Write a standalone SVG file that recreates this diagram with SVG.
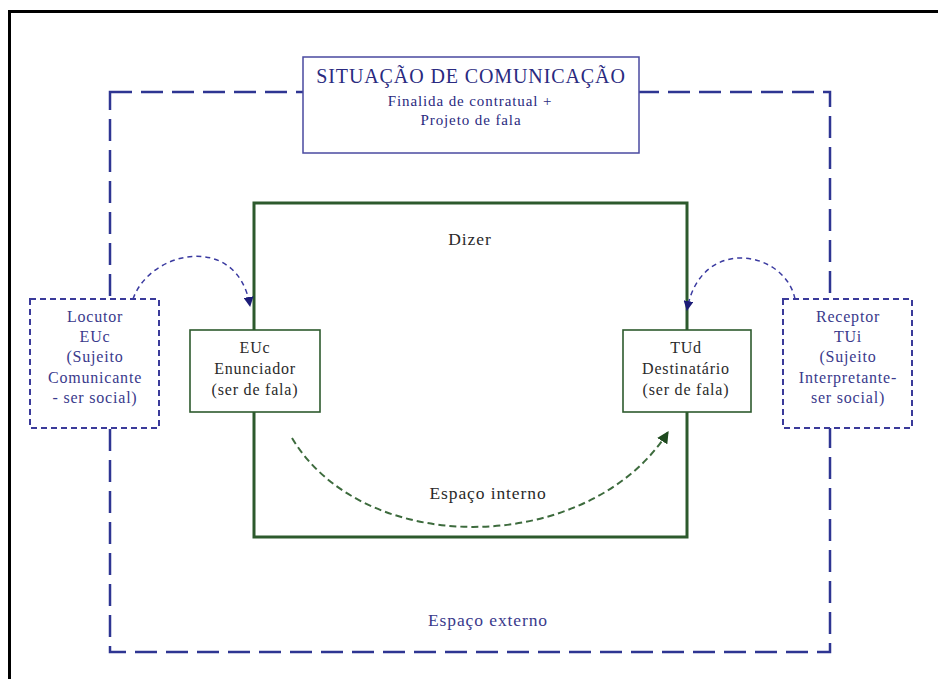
<svg xmlns="http://www.w3.org/2000/svg" width="938" height="679" viewBox="0 0 938 679" font-family="'Liberation Serif', 'Times New Roman', serif">
  <defs>
    <marker id="headBlue" viewBox="0 0 10 10" refX="9" refY="5" markerWidth="10" markerHeight="10" markerUnits="userSpaceOnUse" orient="auto">
      <path d="M0,0 L10,5 L0,10 z" fill="#1c1c78"/>
    </marker>
    <marker id="headGreen" viewBox="0 0 10 10" refX="9" refY="5" markerWidth="12" markerHeight="12" markerUnits="userSpaceOnUse" orient="auto">
      <path d="M0,0 L10,5 L0,10 z" fill="#1f4a1f"/>
    </marker>
  </defs>
  <style>
    text { font-family: 'Liberation Serif', 'Times New Roman', serif; text-anchor: middle; }
    .title { font-size: 20px; fill: #2a2a80; letter-spacing: 0.9px; }
    .sub { font-size: 15px; fill: #2a2a80; letter-spacing: 0.9px; }
    .ext { font-size: 16px; fill: #3a3a8c; letter-spacing: 0.8px; }
    .int { font-size: 16px; fill: #2a2a2a; letter-spacing: 0.8px; }
    .space { font-size: 17.5px; letter-spacing: 0.9px; }
    .outerFrame { fill: none; stroke: #000; stroke-width: 3; }
    .extSpace { fill: none; stroke: #2e3592; stroke-width: 2.5; stroke-dasharray: 22 9; }
    .intSpace { fill: none; stroke: #2d5a2d; stroke-width: 3; }
    .extBox { fill: #fff; stroke: #3a3a9a; stroke-width: 2; stroke-dasharray: 6 4; }
    .intBox { fill: #fff; stroke: #2d5a2d; stroke-width: 1.6; }
    .sitBox { fill: #fff; stroke: #4a4aa0; stroke-width: 1.5; }
    .linkBlue { fill: none; stroke: #3a3aa0; stroke-width: 1.5; stroke-dasharray: 5 4; }
    .linkGreen { fill: none; stroke: #3d6b3d; stroke-width: 2; stroke-dasharray: 7 4; }
  </style>

  <rect width="938" height="679" fill="#fff"/>
  <!-- page frame -->
  <rect class="outerFrame" x="9.5" y="11.5" width="940" height="680"/>

  <!-- external space (dashed) and internal space (solid green) -->
  <g id="espaco-externo">
    <rect class="extSpace" x="110" y="92" width="720" height="560"/>
    <text class="ext space" x="488" y="626">Espaço externo</text>
  </g>
  <g id="espaco-interno">
    <rect class="intSpace" x="254" y="203" width="433" height="334"/>
    <text class="int space" x="470" y="245">Dizer</text>
    <text class="int space" x="488" y="499">Espaço interno</text>
  </g>

  <g id="situacao">
    <rect class="sitBox" x="303" y="57" width="336" height="96"/>
    <text class="title" x="471" y="83">SITUAÇÃO DE COMUNICAÇÃO</text>
    <text class="sub" x="470" y="106">Finalida de contratual +</text>
    <text class="sub" x="471" y="125">Projeto de fala</text>
  </g>

  <g id="locutor">
    <rect class="extBox" x="30" y="299" width="129" height="129"/>
    <text class="ext" x="95" y="322">Locutor</text>
    <text class="ext" x="95" y="342">EUc</text>
    <text class="ext" x="95" y="362">(Sujeito</text>
    <text class="ext" x="95" y="383">Comunicante</text>
    <text class="ext" x="95" y="403">- ser social)</text>
  </g>

  <g id="enunciador">
    <rect class="intBox" x="190" y="330" width="130" height="82"/>
    <text class="int" x="255" y="353">EUc</text>
    <text class="int" x="255" y="374">Enunciador</text>
    <text class="int" x="255" y="395">(ser de fala)</text>
  </g>

  <g id="destinatario">
    <rect class="intBox" x="623" y="330" width="128" height="82"/>
    <text class="int" x="686" y="353">TUd</text>
    <text class="int" x="686" y="374">Destinatário</text>
    <text class="int" x="686" y="395">(ser de fala)</text>
  </g>

  <g id="receptor">
    <rect class="extBox" x="783" y="299" width="129" height="129"/>
    <text class="ext" x="848" y="322">Receptor</text>
    <text class="ext" x="848" y="342">TUi</text>
    <text class="ext" x="848" y="362">(Sujeito</text>
    <text class="ext" x="848" y="383">Interpretante-</text>
    <text class="ext" x="848" y="403">ser social)</text>
  </g>

  <g id="connectors">
    <path class="linkBlue" d="M133,299 C150,250 238,232 250,306" marker-end="url(#headBlue)"/>
    <path class="linkBlue" d="M795,299 C785,250 700,235 687,310" marker-end="url(#headBlue)"/>
    <path class="linkGreen" d="M292,438 C365,560 590,555 668,432" marker-end="url(#headGreen)"/>
  </g>
</svg>
